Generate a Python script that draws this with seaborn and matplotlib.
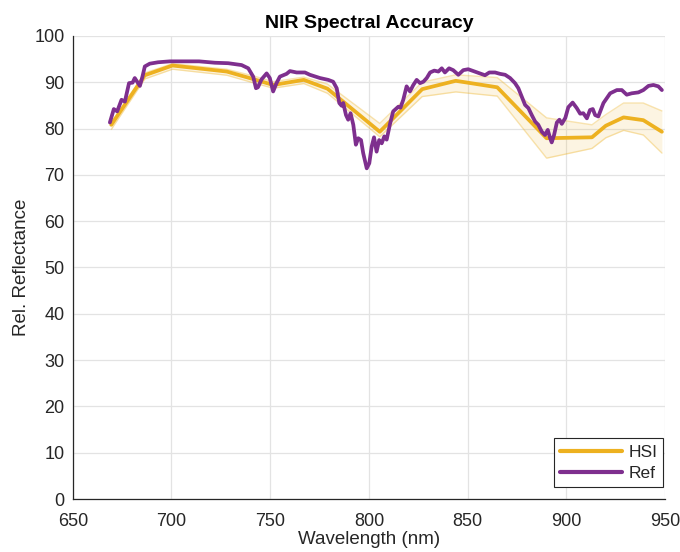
import numpy as np
import pandas as pd
import matplotlib
matplotlib.use("Agg")
import matplotlib.pyplot as plt
import seaborn as sns

# ---- data ----
hsi_wl = [669.5, 686.5, 700.5, 728, 742, 751.5, 767, 779, 805.5, 827, 844, 865,
          890, 913, 920, 929, 939, 948.4]
hsi_val = [80.8, 91.5, 93.6, 92.3, 90.6, 89.4, 90.5, 88.6, 79.3, 88.5, 90.3, 88.9,
           77.9, 78.1, 80.6, 82.4, 81.8, 79.3]
hsi_lo = [79.8, 90.7, 92.8, 91.5, 89.8, 88.7, 89.7, 87.6, 78.2, 86.9, 87.9, 87.0,
          73.6, 75.7, 78.0, 79.6, 78.6, 74.7]
hsi_hi = [81.3, 92.0, 94.0, 92.8, 91.3, 90.1, 91.1, 89.6, 81.1, 90.0, 91.6, 91.0,
          82.3, 80.8, 83.0, 85.5, 85.5, 83.8]

ref_wl = [668.8, 670.8, 672.5, 674.7, 676.4, 678.5, 680.3, 681.4, 682.6, 684.0,
          685.3, 686.5, 689.0, 693.2, 699.2, 706, 714, 722, 728.7, 735.5,
          738.9, 741.4, 742.8, 743.8, 745.6, 748.2, 749.8, 751.5, 753.2, 754.9,
          758.3, 760.0, 763.4, 767.6, 770.1, 775.2, 779.4, 781.9, 783.7, 785.0,
          786.2, 787.0, 788.4, 789.5, 790.7, 792.1, 793.4, 794.6, 796.0, 797.1,
          798.9, 800.2, 801.4, 802.6, 803.9, 805.2, 806.5, 807.8, 809.0, 810.7,
          812.3, 813.6, 814.9, 816.0, 817.4, 819.1, 820.8, 822.5, 824.2, 825.9,
          827.6, 829.3, 831.0, 833.1, 835.2, 836.9, 838.5, 840.6, 842.7, 845.3,
          847.8, 850.3, 852.9, 856.3, 858.8, 861.0, 863.9, 866.4, 869.0, 871.5,
          874.0, 875.7, 877.4, 879.1, 880.8, 882.5, 884.2, 885.8, 887.6, 889.2,
          890.6, 891.8, 892.6, 893.8, 895.2, 896.5, 897.7, 899.5, 901.0, 903.2,
          905.3, 907.0, 908.6, 910.4, 912.0, 913.4, 914.6, 916.2, 918.8, 922.2,
          925.6, 928.1, 930.6, 933.1, 936.5, 939.0, 941.6, 944.1, 946.6, 948.4]
ref_val = [81.3, 84.2, 83.7, 86.2, 85.8, 89.8, 89.9, 90.9, 90.1, 89.2,
           91.2, 93.4, 94.0, 94.3, 94.5, 94.5, 94.5, 94.2, 94.1, 93.7,
           93.0, 91.2, 88.7, 88.9, 90.6, 91.9, 90.9, 88.0, 89.8, 91.2,
           91.8, 92.4, 92.1, 92.1, 91.6, 90.9, 90.5, 90.1, 88.7, 85.5,
           84.9, 85.5, 82.9, 81.9, 83.3, 80.8, 76.5, 77.9, 77.5, 74.7,
           71.4, 72.5, 76.1, 78.1, 75.0, 77.5, 76.8, 78.3, 77.6, 81.0,
           83.7, 84.2, 84.7, 84.5, 86.2, 89.1, 88.0, 89.4, 90.5, 89.8,
           90.1, 90.9, 92.1, 92.5, 92.3, 93.0, 92.1, 93.0, 92.6, 91.6,
           92.6, 92.8, 92.4, 91.9, 91.5, 92.1, 92.1, 91.8, 91.6, 90.9,
           89.8, 88.7, 86.9, 85.1, 84.4, 82.9, 81.5, 80.8, 79.3, 78.6,
           79.7, 77.9, 77.0, 78.6, 81.3, 81.9, 81.0, 82.3, 84.6, 85.6,
           84.4, 83.2, 83.3, 82.2, 84.0, 84.2, 82.9, 82.6, 85.5, 87.6,
           88.3, 88.3, 87.3, 87.6, 87.8, 88.3, 89.2, 89.4, 89.1, 88.3]

x_ticks = [650, 700, 750, 800, 850, 900, 950]
y_ticks = [0, 10, 20, 30, 40, 50, 60, 70, 80, 90, 100]

hsi_color = "#EDB120"
ref_color = "#7E2F8E"

sns.set_theme(style="white")
plt.rcParams['font.family'] = ['Liberation Sans', 'DejaVu Sans']

fig = plt.figure(figsize=(6.8, 5.52), dpi=100)
ax = fig.add_axes([0.107, 0.096, 0.871, 0.839])

hsi_df = pd.DataFrame({"wl": hsi_wl, "val": hsi_val})
ref_df = pd.DataFrame({"wl": ref_wl, "val": ref_val})

ax.fill_between(hsi_wl, hsi_lo, hsi_hi, color=hsi_color, alpha=0.13, lw=0, zorder=2)
ax.plot(hsi_wl, hsi_lo, color=hsi_color, alpha=0.35, lw=1.0, zorder=2)
ax.plot(hsi_wl, hsi_hi, color=hsi_color, alpha=0.35, lw=1.0, zorder=2)
sns.lineplot(data=hsi_df, x="wl", y="val", color=hsi_color, lw=2.7, ax=ax,
             label="HSI", zorder=3, sort=False)
sns.lineplot(data=ref_df, x="wl", y="val", color=ref_color, lw=2.7, ax=ax,
             label="Ref", zorder=4, sort=False)

ax.set_xlim(650, 950)
ax.set_ylim(0, 100)
ax.set_xticks(x_ticks)
ax.set_yticks(y_ticks)
ax.grid(True, color="#e3e3e3", lw=0.9, zorder=0)
ax.set_axisbelow(True)

for s in ["top", "right"]:
    ax.spines[s].set_visible(False)
for s in ["left", "bottom"]:
    ax.spines[s].set_color("#262626")
    ax.spines[s].set_linewidth(0.9)

ax.tick_params(axis="both", direction="in", length=5, width=0.9,
               colors="#262626", labelsize=13)
ax.tick_params(axis="x", pad=10)
ax.tick_params(axis="y", pad=6)

ax.set_xlabel("Wavelength (nm)", fontsize=13.5, color="#262626", labelpad=1)
ax.set_ylabel("Rel. Reflectance", fontsize=13.5, color="#262626", labelpad=3)
ax.set_title("NIR Spectral Accuracy", fontsize=14, fontweight="bold",
             color="black", pad=6)

leg = ax.legend(loc="lower right", fontsize=12.5, frameon=True, fancybox=False,
                edgecolor="#262626", framealpha=1, handlelength=3.6,
                borderpad=0.35, labelspacing=0.35, handletextpad=0.35,
                borderaxespad=0, bbox_to_anchor=(0.997, 0.026))
leg.get_frame().set_linewidth(0.8)
for line in leg.get_lines():
    line.set_linewidth(3)

fig.savefig("out.png", dpi=100)
